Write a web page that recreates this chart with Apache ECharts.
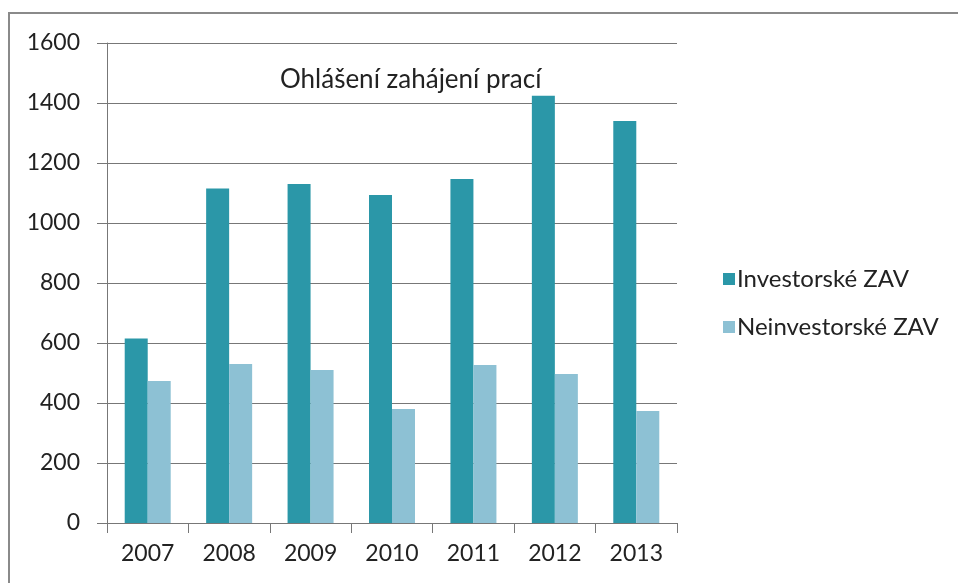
<!DOCTYPE html>
<html>
<head>
<meta charset="utf-8">
<script src="https://cdn.jsdelivr.net/npm/echarts@6/dist/echarts.min.js"></script>
<style>
  html, body { margin: 0; padding: 0; background: #fff; }
  #chart { width: 958px; height: 583px; }
</style>
</head>
<body>
<div id="chart"></div>
<script>
var years = ['2007', '2008', '2009', '2010', '2011', '2012', '2013']
var investorske = [615, 1115, 1130, 1093, 1147, 1424, 1340]
var neinvestorske = [473, 530, 510, 380, 527, 497, 373]

var font = 'Lato, "Open Sans", sans-serif'
var chart = echarts.init(document.getElementById('chart'))

chart.setOption({
  backgroundColor: '#fff',
  animation: false,
  // frame round the chart, like the original picture
  graphic: [{
    type: 'rect',
    shape: { x: 9, y: 13, width: 960, height: 590 },
    style: { fill: 'none', stroke: '#8a8a8a', lineWidth: 2 },
    silent: true
  }],
  title: {
    text: 'Ohlášení zahájení prací',
    left: 275,
    top: 62,
    textStyle: {
      color: '#222',
      fontSize: 26,
      fontWeight: 'normal',
      fontFamily: font
    }
  },
  legend: {
    orient: 'vertical',
    left: 718,
    top: 262,
    itemGap: 24,
    itemWidth: 12,
    itemHeight: 12,
    icon: 'rect',
    textStyle: { color: '#222', fontSize: 24, fontFamily: font, padding: [0, 0, 0, -3] },
    data: ['Investorské ZAV', 'Neinvestorské ZAV']
  },
  grid: {
    left: 107,
    top: 43,
    width: 570,
    height: 480
  },
  xAxis: {
    type: 'category',
    data: years,
    axisLine: { lineStyle: { color: '#777' } },
    axisTick: { show: true, length: 10, lineStyle: { color: '#777' } },
    axisLabel: { color: '#222', fontSize: 23, fontFamily: font, margin: 19 }
  },
  yAxis: {
    type: 'value',
    min: 0,
    max: 1600,
    interval: 200,
    axisLine: { show: true, lineStyle: { color: '#777' } },
    axisTick: { show: true, length: 10, lineStyle: { color: '#777' } },
    axisLabel: {
      color: '#222',
      fontSize: 23,
      fontFamily: font,
      margin: 27,
      formatter: function (v) { return String(v) }
    },
    splitLine: { lineStyle: { color: '#777' } }
  },
  series: [{
    name: 'Investorské ZAV',
    type: 'bar',
    barWidth: 23,
    barGap: '0%',
    itemStyle: { color: '#2b97a8' },
    data: investorske
  },
  {
    name: 'Neinvestorské ZAV',
    type: 'bar',
    barWidth: 23,
    barGap: '0%',
    itemStyle: { color: '#8dc1d4' },
    data: neinvestorske
  }]
})
</script>
</body>
</html>
